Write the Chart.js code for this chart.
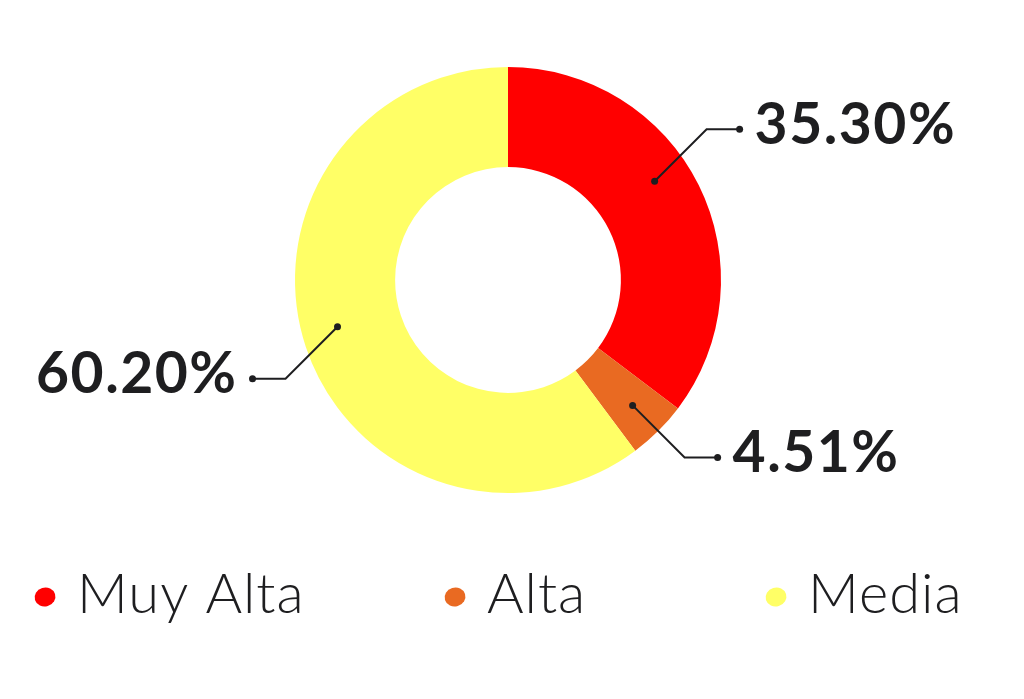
<!DOCTYPE html>
<html>
<head>
<meta charset="utf-8">
<script src="https://cdn.jsdelivr.net/npm/chart.js@4/dist/chart.umd.min.js"></script>
<style>
  html, body { margin: 0; padding: 0; background: #fff; }
  #wrap { position: relative; width: 1024px; height: 699px; }
</style>
</head>
<body>
<div id="wrap"><canvas id="chart"></canvas></div>
<script>
// Data
const categories = ['Muy Alta', 'Alta', 'Media'];
const values = [35.30, 4.51, 60.20];
const valueLabels = ['35.30%', '4.51%', '60.20%'];
const colors = ['#FF0000', '#E96A22', '#FFFF66'];

const textColor = '#1e1e20';

// leader lines + big percentage labels
const calloutPlugin = {
    id: 'callouts',
    afterDatasetsDraw(chart, args, opts) {
        const ctx = chart.ctx;
        const meta = chart.getDatasetMeta(0);
        meta.data.forEach((arc, i) => {
            const p = arc.getProps(['x', 'y', 'startAngle', 'endAngle', 'outerRadius'], true);
            const ang = (p.startAngle + p.endAngle) / 2 + (opts.angleShift[i] || 0) * Math.PI / 180;
            const r = p.outerRadius * 0.83;
            const ax = p.x + Math.cos(ang) * r;
            const ay = p.y + Math.sin(ang) * r;
            const sx = Math.cos(ang) >= 0 ? 1 : -1;
            const sy = Math.sin(ang) >= 0 ? 1 : -1;
            const ex = ax + sx * 52, ey = ay + sy * 52;
            const tx = ex + sx * 33;

            ctx.save();
            ctx.strokeStyle = textColor;
            ctx.fillStyle = textColor;
            ctx.lineWidth = 2;
            ctx.beginPath();
            ctx.moveTo(ax, ay);
            ctx.lineTo(ex, ey);
            ctx.lineTo(tx, ey);
            ctx.stroke();
            [[ax, ay], [tx, ey]].forEach(([x, y]) => {
                ctx.beginPath();
                ctx.arc(x, y, 3.5, 0, Math.PI * 2);
                ctx.fill();
            });
            ctx.font = 'bold 57px Lato, "Noto Sans", sans-serif';
            ctx.letterSpacing = '1.5px';
            ctx.textBaseline = 'middle';
            ctx.textAlign = sx > 0 ? 'left' : 'right';
            ctx.fillText(valueLabels[i], tx + sx * 15, ey - 4);
            ctx.restore();
        });
    }
};

// legend along the bottom
const legendPlugin = {
    id: 'bottomLegend',
    afterDraw(chart, args, opts) {
        const ctx = chart.ctx;
        ctx.save();
        categories.forEach((name, i) => {
            const x = opts.itemX[i];
            ctx.fillStyle = colors[i];
            ctx.beginPath();
            ctx.ellipse(x, opts.y, 10.5, 9.5, -0.3, 0, Math.PI * 2);
            ctx.fill();
            ctx.fillStyle = textColor;
            ctx.font = '300 56px Lato, "Noto Sans", sans-serif';
            ctx.letterSpacing = '1px';
            ctx.textBaseline = 'alphabetic';
            ctx.textAlign = 'left';
            ctx.fillText(name, x + 32, opts.y + 16);
        });
        ctx.restore();
    }
};

new Chart(document.getElementById('chart'), {
    type: 'doughnut',
    data: {
        labels: categories,
        datasets: [{
            data: values,
            backgroundColor: colors,
            borderWidth: 0,
            hoverOffset: 0
        }]
    },
    options: {
        responsive: true,
        maintainAspectRatio: false,
        animation: false,
        cutout: '53%',
        layout: { padding: { top: 67, bottom: 206, left: 295, right: 303 } },
        plugins: {
            legend: { display: false },
            tooltip: { enabled: false },
            callouts: { angleShift: [-7.5, 0, 3] },
            bottomLegend: { y: 597, itemX: [45, 455, 776] }
        }
    },
    plugins: [calloutPlugin, legendPlugin]
});
</script>
</body>
</html>
